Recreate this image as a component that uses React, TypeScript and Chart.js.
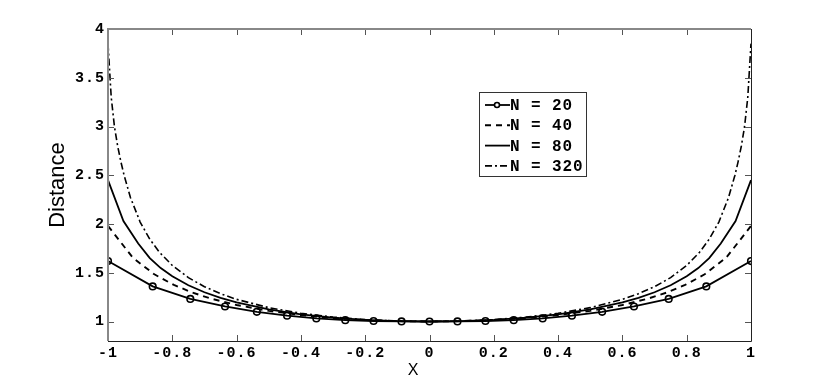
import React, { useEffect, useRef } from "react";
import { Chart, registerables } from "chart.js";

Chart.register(...registerables);

const seriesLabels = ["N = 20", "N = 40", "N = 80", "N = 320"];

const x20 = [-1, -0.861, -0.744, -0.636, -0.537, -0.443, -0.352, -0.262, -0.174, -0.087, 0, 0.087, 0.174, 0.262, 0.352, 0.443, 0.537, 0.636, 0.744, 0.861, 1];
const d20 = [1.62, 1.36, 1.232, 1.154, 1.099, 1.06, 1.032, 1.014, 1.005, 1.001, 1.0, 1.001, 1.005, 1.014, 1.032, 1.06, 1.099, 1.154, 1.232, 1.36, 1.62];

const x40 = [-1, -0.923, -0.856, -0.795, -0.738, -0.68, -0.6, -0.5, -0.4, -0.3, -0.2, -0.1, 0, 0.1, 0.2, 0.3, 0.4, 0.5, 0.6, 0.68, 0.738, 0.795, 0.856, 0.923, 1];
const d40 = [1.98, 1.655, 1.484, 1.375, 1.297, 1.235, 1.169, 1.109, 1.066, 1.035, 1.015, 1.004, 1.0, 1.004, 1.015, 1.035, 1.066, 1.109, 1.169, 1.235, 1.297, 1.375, 1.484, 1.655, 1.98];

const x80 = [-1, -0.952, -0.906, -0.87, -0.836, -0.8, -0.75, -0.7, -0.65, -0.6, -0.5, -0.4, -0.3, -0.2, -0.1, 0, 0.1, 0.2, 0.3, 0.4, 0.5, 0.6, 0.65, 0.7, 0.75, 0.8, 0.836, 0.87, 0.906, 0.952, 1];
const d80 = [2.45, 2.03, 1.8, 1.65, 1.548, 1.464, 1.372, 1.3, 1.242, 1.195, 1.124, 1.074, 1.04, 1.017, 1.004, 1.0, 1.004, 1.017, 1.04, 1.074, 1.124, 1.195, 1.242, 1.3, 1.372, 1.464, 1.548, 1.65, 1.8, 2.03, 2.45];

const x320 = [-1, -0.99, -0.98, -0.97, -0.96, -0.95, -0.93, -0.9, -0.87, -0.84, -0.8, -0.75, -0.7, -0.65, -0.6, -0.5, -0.4, -0.3, -0.2, -0.1, 0, 0.1, 0.2, 0.3, 0.4, 0.5, 0.6, 0.65, 0.7, 0.75, 0.8, 0.84, 0.87, 0.9, 0.93, 0.95, 0.96, 0.97, 0.98, 0.99, 1];
const d320 = [3.85, 3.3, 3.0, 2.8, 2.64, 2.5, 2.27, 2.02, 1.844, 1.71, 1.575, 1.45, 1.357, 1.285, 1.227, 1.142, 1.084, 1.045, 1.019, 1.005, 1.0, 1.005, 1.019, 1.045, 1.084, 1.142, 1.227, 1.285, 1.357, 1.45, 1.575, 1.71, 1.844, 2.02, 2.27, 2.5, 2.64, 2.8, 3.0, 3.3, 3.85];

const xTicks = [-1, -0.8, -0.6, -0.4, -0.2, 0, 0.2, 0.4, 0.6, 0.8, 1];
const yTicks = [1, 1.5, 2, 2.5, 3, 3.5, 4];
const xAxisTitle = "X";
const yAxisTitle = "Distance";

const MONO = '"Liberation Mono", "Courier New", Courier, monospace';
const SANS = '"Liberation Sans", Arial, Helvetica, sans-serif';

const pair = (xs: number[], ys: number[]) => xs.map((x, i) => ({ x, y: ys[i] }));

const spacingPlugin = {
  id: "spacing",
  beforeLayout(chart: any) {
    chart.ctx.letterSpacing = "1px";
  },
  beforeDraw(chart: any) {
    chart.ctx.letterSpacing = "1px";
  },
};

const framePlugin = {
  id: "frame",
  afterDraw(chart: any) {
    const { ctx, chartArea: a, scales } = chart;
    const xs = scales.x;
    const ys = scales.y;
    ctx.save();
    ctx.letterSpacing = "0px";

    // inward ticks
    ctx.lineWidth = 1;
    ctx.strokeStyle = "#555";
    ctx.beginPath();
    for (const v of xTicks) {
      const px = Math.round(xs.getPixelForValue(v)) + 0.5;
      ctx.moveTo(px, a.bottom);
      ctx.lineTo(px, a.bottom - 6);
      ctx.moveTo(px, a.top);
      ctx.lineTo(px, a.top + 6);
    }
    for (const v of yTicks) {
      const py = Math.round(ys.getPixelForValue(v)) + 0.5;
      ctx.moveTo(a.left, py);
      ctx.lineTo(a.left + 6, py);
      ctx.moveTo(a.right, py);
      ctx.lineTo(a.right - 6, py);
    }
    ctx.stroke();

    // box
    ctx.strokeStyle = "#888";
    ctx.lineWidth = 2;
    ctx.beginPath();
    ctx.moveTo(a.left, a.bottom);
    ctx.lineTo(a.left, a.top);
    ctx.lineTo(a.right, a.top);
    ctx.stroke();
    ctx.strokeStyle = "#222";
    ctx.lineWidth = 1;
    ctx.beginPath();
    ctx.moveTo(Math.round(a.right) + 0.5, a.top);
    ctx.lineTo(Math.round(a.right) + 0.5, Math.round(a.bottom) + 0.5);
    ctx.lineTo(a.left, Math.round(a.bottom) + 0.5);
    ctx.stroke();

    // axis titles
    ctx.fillStyle = "#000";
    ctx.font = `22px ${SANS}`;
    ctx.textAlign = "center";
    ctx.textBaseline = "alphabetic";
    ctx.save();
    ctx.translate(63.5, 185);
    ctx.rotate(-Math.PI / 2);
    ctx.fillText(yAxisTitle, 0, 0);
    ctx.restore();
    ctx.font = `16px ${SANS}`;
    ctx.fillText(xAxisTitle, 413, 375);

    // legend
    const lx = 479.5;
    const ly = 92.5;
    const lw = 107;
    const lh = 84;
    ctx.fillStyle = "#fff";
    ctx.fillRect(lx, ly, lw, lh);
    ctx.strokeStyle = "#333";
    ctx.lineWidth = 1;
    ctx.strokeRect(lx, ly, lw, lh);
    chart.data.datasets.forEach((ds: any, i: number) => {
      const cy = 105 + i * 20.3;
      ctx.save();
      ctx.strokeStyle = ds.borderColor;
      ctx.lineWidth = ds.borderWidth;
      ctx.setLineDash(ds.borderDash || []);
      ctx.beginPath();
      ctx.moveTo(485, cy);
      ctx.lineTo(510, cy);
      ctx.stroke();
      ctx.setLineDash([]);
      if (ds.pointRadius > 0) {
        ctx.lineWidth = ds.pointBorderWidth;
        ctx.beginPath();
        ctx.arc(497, cy, 2.5, 0, Math.PI * 2);
        ctx.fillStyle = "#fff";
        ctx.fill();
        ctx.stroke();
      }
      ctx.restore();
      ctx.save();
      ctx.fillStyle = "#000";
      ctx.font = `bold 16px ${MONO}`;
      ctx.letterSpacing = "0.9px";
      ctx.textAlign = "left";
      ctx.textBaseline = "middle";
      ctx.fillText(ds.label, 510, cy + 1);
      ctx.restore();
    });
    ctx.restore();
  },
};

export default function App() {
  const ref = useRef<HTMLCanvasElement | null>(null);

  useEffect(() => {
    document.body.style.margin = "0";
    const canvas = ref.current;
    if (!canvas) return;
    const chart = new Chart(canvas, {
      type: "scatter",
      data: {
        datasets: [
          {
            label: seriesLabels[0],
            data: pair(x20, d20),
            showLine: true,
            borderColor: "#000",
            borderWidth: 1.8,
            pointRadius: 3.3,
            pointBorderWidth: 1.6,
            pointBorderColor: "#000",
            pointBackgroundColor: "rgba(255,255,255,0)",
          },
          {
            label: seriesLabels[1],
            data: pair(x40, d40),
            showLine: true,
            borderColor: "#000",
            borderWidth: 1.9,
            borderDash: [6, 5],
            pointRadius: 0,
          },
          {
            label: seriesLabels[2],
            data: pair(x80, d80),
            showLine: true,
            borderColor: "#000",
            borderWidth: 1.8,
            pointRadius: 0,
          },
          {
            label: seriesLabels[3],
            data: pair(x320, d320),
            showLine: true,
            borderColor: "#000",
            borderWidth: 1.6,
            borderDash: [7, 3, 2, 3],
            pointRadius: 0,
          },
        ],
      } as any,
      options: {
        animation: false,
        responsive: false,
        devicePixelRatio: 1,
        events: [],
        layout: { padding: { left: 0, right: 79, top: 29, bottom: 0 } },
        plugins: {
          legend: { display: false },
          tooltip: { enabled: false },
          title: { display: false },
        },
        scales: {
          x: {
            type: "linear",
            min: -1,
            max: 1,
            grid: { display: false, drawTicks: false },
            border: { display: false },
            afterBuildTicks: (s: any) => {
              s.ticks = xTicks.map((v) => ({ value: v }));
            },
            afterFit: (s: any) => {
              s.height = 43;
            },
            ticks: {
              padding: 3,
              color: "#000",
              autoSkip: false,
              maxRotation: 0,
              font: { family: MONO, size: 15, weight: "bold" },
              callback: (v: any) => String(Math.round(Number(v) * 10) / 10),
            },
          },
          y: {
            type: "linear",
            min: 0.8,
            max: 4,
            grid: { display: false, drawTicks: false },
            border: { display: false },
            afterBuildTicks: (s: any) => {
              s.ticks = yTicks.map((v) => ({ value: v }));
            },
            afterFit: (s: any) => {
              s.width = 108;
            },
            ticks: {
              padding: 3,
              color: "#000",
              autoSkip: false,
              font: { family: MONO, size: 15, weight: "bold" },
              callback: (v: any) => String(Math.round(Number(v) * 10) / 10),
            },
          },
        },
      } as any,
      plugins: [spacingPlugin, framePlugin],
    });
    return () => chart.destroy();
  }, []);

  return (
    <div style={{ width: 830, height: 384, background: "#fff" }}>
      <canvas ref={ref} width={830} height={384} style={{ display: "block" }} />
    </div>
  );
}
